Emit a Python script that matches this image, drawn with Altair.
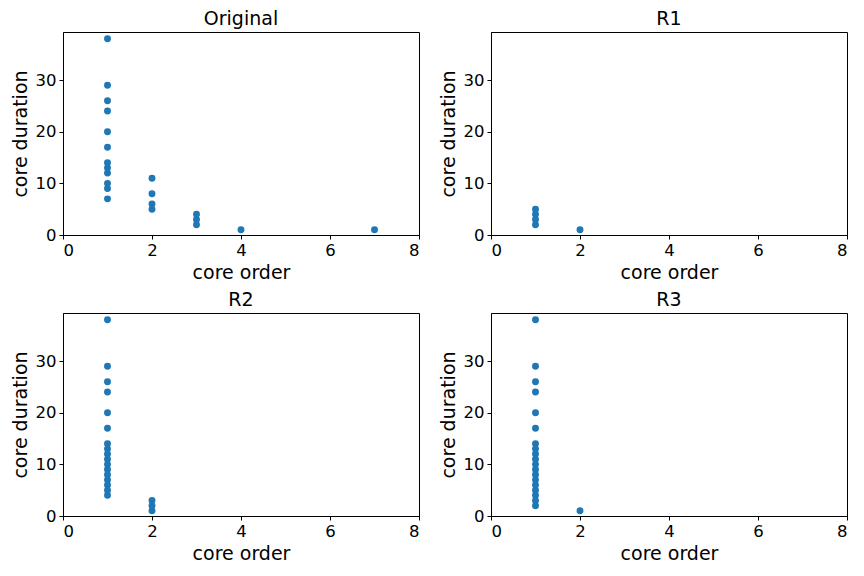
import altair as alt
import pandas as pd

# Data
orig_order = [1]*12 + [2]*4 + [3]*3 + [4, 7]
orig_dur = [38, 29, 26, 24, 20, 17, 14, 13, 12, 10, 9, 7,
            11, 8, 6, 5,
            4, 3, 2,
            1, 1]

r1_order = [1, 1, 1, 1, 2]
r1_dur = [5, 4, 3, 2, 1]

r2_order = [1]*17 + [2]*3
r2_dur = [38, 29, 26, 24, 20, 17, 14, 13, 12, 11, 10, 9, 8, 7, 6, 5, 4,
          3, 2, 1]

r3_order = [1]*19 + [2]
r3_dur = [38, 29, 26, 24, 20, 17, 14, 13, 12, 11, 10, 9, 8, 7, 6, 5, 4, 3, 2,
          1]

panels = ["Original", "R1", "R2", "R3"]
orders = [orig_order, r1_order, r2_order, r3_order]
durs = [orig_dur, r1_dur, r2_dur, r3_dur]

frames = []
for name, o, d in zip(panels, orders, durs):
    frames.append(pd.DataFrame({"panel": name, "order": o, "duration": d}))
df = pd.concat(frames, ignore_index=True)

W, H = 356, 203


def panel(name):
    return (
        alt.Chart(df)
        .transform_filter(alt.datum.panel == name)
        .mark_circle(size=48, color="#1f77b4", opacity=1)
        .encode(
            x=alt.X("order:Q", title="core order",
                    scale=alt.Scale(domain=[0, 8], nice=False),
                    axis=alt.Axis(values=[0, 2, 4, 6, 8], format="d")),
            y=alt.Y("duration:Q", title="core duration",
                    scale=alt.Scale(domain=[0, 39.3], nice=False),
                    axis=alt.Axis(values=[0, 10, 20, 30], format="d")),
        )
        .properties(width=W, height=H,
                    title=alt.TitleParams(name, fontSize=19, fontWeight="normal",
                                          font="DejaVu Sans", offset=3,
                                          color="black"))
    )


top = alt.hconcat(panel("Original"), panel("R1"), spacing=18)
bottom = alt.hconcat(panel("R2"), panel("R3"), spacing=18)
chart = (
    alt.vconcat(top, bottom, spacing=7)
    .configure_view(stroke="black", strokeWidth=1)
    .configure_axis(
        grid=False,
        labelFont="DejaVu Sans", titleFont="DejaVu Sans",
        labelFontSize=16.5, titleFontSize=19, titleFontWeight="normal",
        labelColor="black", titleColor="black",
        domainColor="black", tickColor="black", tickSize=4,
        labelPadding=3, titlePadding=5,
    )
    .properties(padding={"left": 2, "top": 1, "right": 5, "bottom": 2})
)

chart.save("out.html", embed_options={"renderer": "svg", "actions": False})
